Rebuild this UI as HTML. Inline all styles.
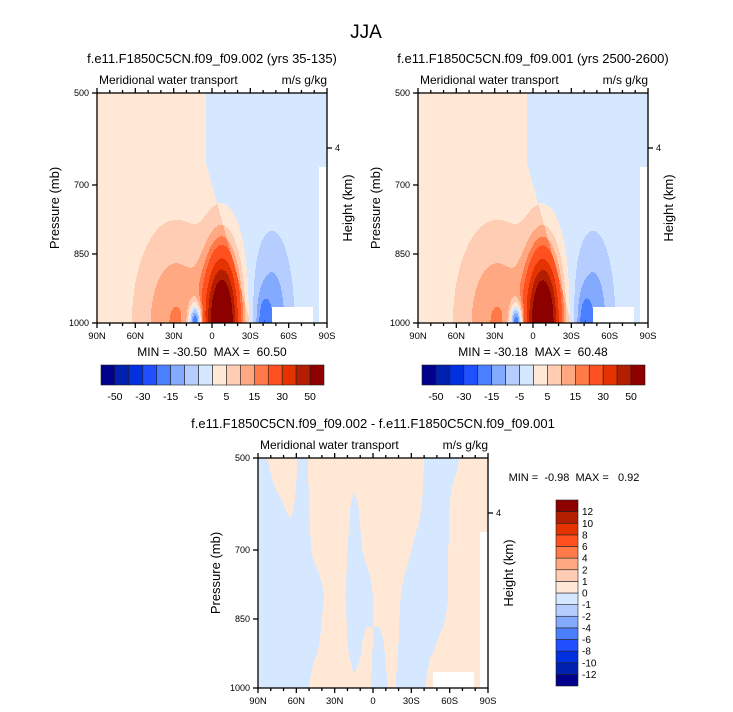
<!DOCTYPE html>
<html><head><meta charset="utf-8">
<style>
body{margin:0;background:#fff;}
svg{display:block;font-family:"Liberation Sans",sans-serif;}
svg text{white-space:pre;}
</style></head>
<body>
<svg id="fig" width="733" height="712" viewBox="0 0 733 712" xmlns="http://www.w3.org/2000/svg">
<text x="366" y="38" font-size="19" text-anchor="middle">JJA</text>
</svg>
<script>
// ---- data ----
const xTickLabels=["90N","60N","30N","0","30S","60S","90S"];
const xTickLats=[90,60,30,0,-30,-60,-90];
const yTickLabels=["500","700","850","1000"];
const yTickVals=[500,700,850,1000];
const levelsMain=[-50,-40,-30,-20,-15,-10,-5,0,5,10,15,20,30,40,50];
const levelsMainLabels=["-50","-30","-15","-5","5","15","30","50"];
const levelsDiff=[-12,-10,-8,-6,-4,-2,-1,0,1,2,4,6,8,10,12];
const colors=['#00008c','#0020b0','#0030e0','#2050ff','#4a80ff','#84aaff','#b6ceff','#d6e8ff','#ffe9d6','#ffcdb4','#ffa882','#ff7a48','#ff5020','#e43200','#b41e00','#8c0000'];
// blobs: lat center, pressure center, amplitude, lat width, pressure width
const blobLat1=[-8,28,13,-47,-40,-88];
const blobP1=[1000,1000,1000,1000,1000,960];
const blobAmp1=[72,13,-36,-12,-8,4];
const blobWl1=[12.5,27,5,14,5,5];
const blobWp1=[140,175,40,160,60,150];
const blobLat2=[-8,28,13,-47,-40,-88];
const blobP2=[1000,1000,1000,1000,1000,960];
const blobAmp2=[71,13,-35,-12,-8,4];
const blobWl2=[12.5,27,5,14,5,5];
const blobWp2=[140,175,40,160,60,150];
// difference field: columns at lats 85N..85S, levels 500..1000 step 100
const diffLats=[85,75,65,55,45,35,25,15,5,-5,-15,-25,-35,-45,-55,-65,-75,-85];
const diffP=[500,600,700,800,900,1000];
const diffVals=[
[-0.1,-0.3,-0.3,-0.3,-0.3,-0.3],
[0.3,-0.1,-0.3,-0.3,-0.3,-0.3],
[0.3,0.1,-0.2,-0.3,-0.3,-0.3],
[-0.2,-0.2,-0.2,-0.2,-0.2,-0.2],
[0.3,0.2,0.1,-0.2,-0.1,0.2],
[0.3,0.3,0.2,0.1,0.2,0.2],
[0.3,0.3,0.2,0.1,0.2,0.2],
[0.3,-0.1,-0.2,-0.2,-0.2,0.1],
[0.3,0.2,0.1,-0.2,0.1,0.1],
[0.3,0.3,0.2,0.2,-0.1,-0.2],
[0.3,0.2,0.2,0.2,0.2,0.1],
[0.3,0.2,0.1,-0.1,-0.2,-0.3],
[0.2,0.1,-0.1,-0.2,-0.3,-0.3],
[-0.2,-0.2,-0.2,-0.2,-0.1,0.2],
[-0.2,-0.2,-0.2,-0.2,0.1,0.2],
[-0.1,0.2,0.3,0.3,0.3,0.2],
[0.3,0.3,0.3,0.2,0.2,0.2],
[0.3,0.3,0.2,0.1,0.1,0.1]];

const NS="http://www.w3.org/2000/svg";
const svg=document.getElementById('fig');
function el(tag,attrs,parent){const e=document.createElementNS(NS,tag);for(const k in attrs)e.setAttribute(k,attrs[k]);(parent||svg).appendChild(e);return e;}
function txt(s,attrs,parent){const e=el('text',attrs,parent);e.textContent=s;return e;}
function colorIdx(v,levels){let i=0;while(i<levels.length&&v>=levels[i])i++;return i;}

function fieldMain(lat,p,L,P,A,W,WP){
  const b=p<650?5:5-(p-650)*0.1;
  let v=lat>b?2.5:-2.5;
  for(let i=0;i<L.length;i++){v+=A[i]*Math.exp(-Math.pow((lat-L[i])/W[i],2)-Math.pow((p-P[i])/WP[i],2));}
  return v;
}
function fieldDiff(lat,p){
  let ci=(85-lat)/10; ci=Math.max(0,Math.min(diffLats.length-1.0001,ci));
  let pi=(p-500)/100; pi=Math.max(0,Math.min(diffP.length-1.0001,pi));
  const c0=Math.floor(ci),p0=Math.floor(pi),fc=ci-c0,fp=pi-p0;
  const a=diffVals[c0][p0],b=diffVals[c0+1][p0],c=diffVals[c0][p0+1],d=diffVals[c0+1][p0+1];
  return (a*(1-fc)+b*fc)*(1-fp)+(c*(1-fc)+d*fc)*fp;
}
function missing(lat,p){return (lat<-47&&lat>-79&&p>966)||(lat<-84&&p>660);}

function panel(name,x0,y0,w,h,fn,levels,title){
  const g=el('g',{});
  
  
  const xs=lat=>x0+(90-lat)/180*w;
  const ys=p=>y0+(p-500)/500*h;
  const field=el('g',{'shape-rendering':'crispEdges'},g);
  
  
  for(let r=0;r<h;r++){
    const p=500+(r+0.5)/h*500;
    let start=0,cur=null;
    for(let c=0;c<=w;c++){
      let ci=null;
      if(c<w){const lat=90-(c+0.5)/w*180;ci=missing(lat,p)?-1:colorIdx(fn(lat,p),levels);}
      if(c===w||ci!==cur){
        if(cur!==null&&cur>=0){el('rect',{x:x0+start,y:y0+r,width:c-start,height:1,fill:colors[cur]},field);}
        start=c;cur=ci;
      }
    }
  }
  const ax=el('g',{stroke:'#000','stroke-width':1.3,fill:'none'},g);
  
  
  el('rect',{x:x0,y:y0,width:w,height:h},ax);
  for(let lat=90;lat>=-90;lat-=10){
    const major=lat%30===0,len=major?5:3;
    el('line',{x1:xs(lat),x2:xs(lat),y1:y0+h,y2:y0+h+len},ax);
    el('line',{x1:xs(lat),x2:xs(lat),y1:y0,y2:y0-len},ax);
  }
  xTickLabels.forEach((s,i)=>{const t=txt(s,{x:xs(xTickLats[i]),y:y0+h+16,'font-size':9.5,'text-anchor':'middle'},g);
    });
  yTickVals.forEach((v,i)=>{el('line',{x1:x0-5,x2:x0,y1:ys(v),y2:ys(v)},ax);
    const t=txt(yTickLabels[i],{x:x0-8,y:ys(v)+3,'font-size':9,'text-anchor':'end'},g);
    });
  el('line',{x1:x0+w,x2:x0+w+5,y1:y0+55,y2:y0+55},ax);
  const k=txt('4',{x:x0+w+8,y:y0+58,'font-size':9},g);
  
  const t1=txt(title,{x:x0+w/2,y:y0-30,'font-size':13,'text-anchor':'middle'},g);
  
  const t2=txt('Meridional water transport',{x:x0+2,y:y0-9,'font-size':12},g);
  
  const t3=txt('m/s g/kg',{x:x0+w,y:y0-9,'font-size':12,'text-anchor':'end'},g);
  
  const t4=txt('Pressure (mb)',{x:0,y:0,'font-size':13,'text-anchor':'middle',transform:`translate(${x0-38},${y0+h/2}) rotate(-90)`},g);
  
  const t5=txt('Height (km)',{x:0,y:0,'font-size':13,'text-anchor':'middle',transform:`translate(${x0+w+25},${y0+h/2}) rotate(-90)`},g);
  
}
function hbar(name,x0,y0,w,h,minmax,mx,my){
  const g=el('g',{});
  
  
  const bw=w/colors.length;
  colors.forEach((c,i)=>{const r=el('rect',{x:x0+i*bw,y:y0,width:bw,height:h,fill:c,stroke:'#222','stroke-width':0.6},g);
    });
  levelsMain.forEach((v,i)=>{if(i%2===0){const t=txt(levelsMainLabels[i/2],{x:x0+(i+1)*bw,y:y0+h+15,'font-size':10.5,'text-anchor':'middle'},g);
    }});
  const m=txt(minmax,{x:mx,y:my,'font-size':12,'text-anchor':'middle'},g);
  
}
panel('panel-yrs-35-135',97,93,230,230,(a,p)=>fieldMain(a,p,blobLat1,blobP1,blobAmp1,blobWl1,blobWp1),levelsMain,'f.e11.F1850C5CN.f09_f09.002 (yrs 35-135)');
panel('panel-yrs-2500-2600',418,93,230,230,(a,p)=>fieldMain(a,p,blobLat2,blobP2,blobAmp2,blobWl2,blobWp2),levelsMain,'f.e11.F1850C5CN.f09_f09.001 (yrs 2500-2600)');
panel('panel-difference',258,458,230,230,fieldDiff,levelsDiff,'f.e11.F1850C5CN.f09_f09.002 - f.e11.F1850C5CN.f09_f09.001');
hbar('colorbar-left',101,365,223,20,'MIN = -30.50  MAX =  60.50',212,356);
hbar('colorbar-right',422,365,223,20,'MIN = -30.18  MAX =  60.48',533,356);
// vertical colorbar
(function(){
  const g=el('g',{});
  
  
  const x0=556,y0=500,w=22,h=186,bh=h/colors.length;
  colors.forEach((c,i)=>{const r=el('rect',{x:x0,y:y0+h-(i+1)*bh,width:w,height:bh,fill:c,stroke:'#222','stroke-width':0.6},g);
    });
  levelsDiff.forEach((v,i)=>{const t=txt(String(v),{x:x0+w+4,y:y0+h-(i+1)*bh+3.5,'font-size':10},g);
    });
  const m=txt('MIN =  -0.98  MAX =   0.92',{x:574,y:481,'font-size':11,'text-anchor':'middle'},g);
  
})();
</script>
</body></html>
